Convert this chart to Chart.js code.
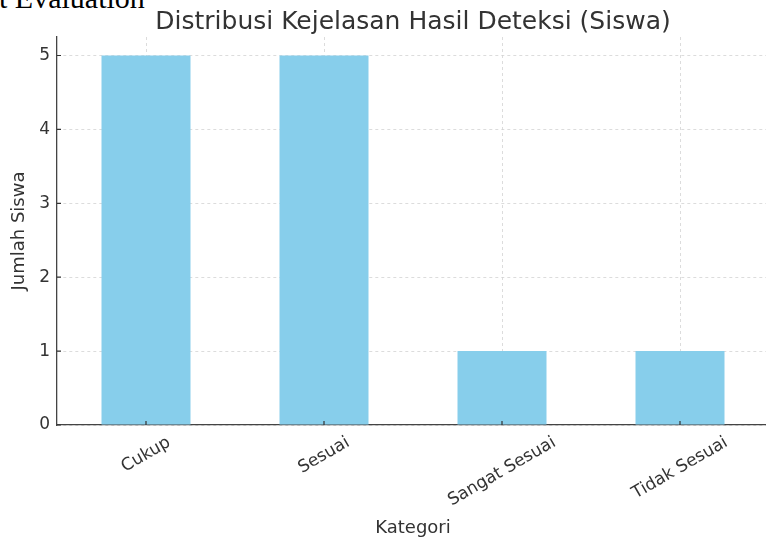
<!DOCTYPE html>
<html>
<head>
<meta charset="utf-8">
<script src="https://cdn.jsdelivr.net/npm/chart.js@4"></script>
<style>
  html, body { margin: 0; padding: 0; background: #fff; overflow: hidden; width: 766px; height: 539px; }
  #wrap { position: absolute; left: 0; top: 0; width: 780px; height: 539px; }
  #heading { position: absolute; left: -1px; top: -17px; font: 30px "Liberation Serif", serif; line-height: 30px; color: #000; white-space: nowrap; }
</style>
</head>
<body>
<div id="heading">t Evaluation</div>
<div id="wrap"><canvas id="myChart" width="780" height="539"></canvas></div>
<script>
const judul = 'Distribusi Kejelasan Hasil Deteksi (Siswa)'
const kategori = ['Cukup', 'Sesuai', 'Sangat Sesuai', 'Tidak Sesuai']
const jumlahSiswa = [5, 5, 1, 1]
const labelX = 'Kategori'
const labelY = 'Jumlah Siswa'

const ctx = document.getElementById('myChart')
const textColor = '#333'

// matplotlib style: centred rotated tick labels, inward ticks, title over the plot
const gayaMpl = {
    id: 'gayaMpl',
    afterDraw(chart) {
        const c = chart.ctx
        const area = chart.chartArea
        const xs = chart.scales.x
        const ys = chart.scales.y
        const mid = (area.left + area.right) / 2
        c.save()
        c.fillStyle = textColor
        c.font = '25px "DejaVu Sans"'
        c.textAlign = 'center'
        c.textBaseline = 'alphabetic'
        c.fillText(judul, mid, 29)

        c.font = '17px "DejaVu Sans"'
        const ang = Math.PI / 6
        kategori.forEach((lab, i) => {
            const x = xs.getPixelForValue(i)
            const w = c.measureText(lab).width
            const h = 17
            const bh = w * Math.sin(ang) + h * Math.cos(ang)
            c.save()
            c.translate(x, area.bottom + 9 + bh / 2)
            c.rotate(-ang)
            c.textAlign = 'center'
            c.textBaseline = 'middle'
            c.fillText(lab, 0, 0)
            c.restore()
        })

        c.font = '18px "DejaVu Sans"'
        c.textAlign = 'center'
        c.fillText(labelX, mid, 533)

        c.strokeStyle = '#333'
        c.lineWidth = 1.2
        c.beginPath()
        ys.ticks.forEach((t) => {
            const y = ys.getPixelForValue(t.value)
            c.moveTo(area.left, y)
            c.lineTo(area.left + 4, y)
        })
        kategori.forEach((lab, i) => {
            const x = xs.getPixelForValue(i)
            c.moveTo(x, area.bottom)
            c.lineTo(x, area.bottom - 4)
        })
        c.stroke()
        c.restore()
    }
}

new Chart(ctx, {
    type: 'bar',
    data: {
        labels: kategori,
        datasets: [{
            data: jumlahSiswa,
            backgroundColor: '#87ceeb',
            categoryPercentage: 1,
            barPercentage: 0.5,
        }]
    },
    options: {
        responsive: false,
        animation: false,
        layout: { padding: { top: 37, right: 11, left: 0, bottom: 0 } },
        scales: {
            x: {
                afterFit: (s) => { s.height = 114 },
                ticks: { display: false },
                grid: { offset: false, color: '#d4d4d4', lineWidth: 0.8, drawTicks: false },
                border: { color: '#444', width: 1.3, dash: [3, 3] }
            },
            y: {
                min: 0,
                max: 5.25,
                afterFit: (s) => { s.width = 57 },
                ticks: { stepSize: 1, includeBounds: false, padding: 7, color: textColor, font: { family: 'DejaVu Sans', size: 17 } },
                grid: { color: '#d4d4d4', lineWidth: 0.8, drawTicks: false },
                border: { color: '#444', width: 1.3, dash: [3, 3] },
                title: { display: true, text: labelY, color: textColor, font: { family: 'DejaVu Sans', size: 18 }, padding: { top: 9, bottom: 0 } }
            }
        },
        plugins: {
            legend: { display: false },
            tooltip: { enabled: false }
        }
    },
    plugins: [gayaMpl]
})
</script>
</body>
</html>
